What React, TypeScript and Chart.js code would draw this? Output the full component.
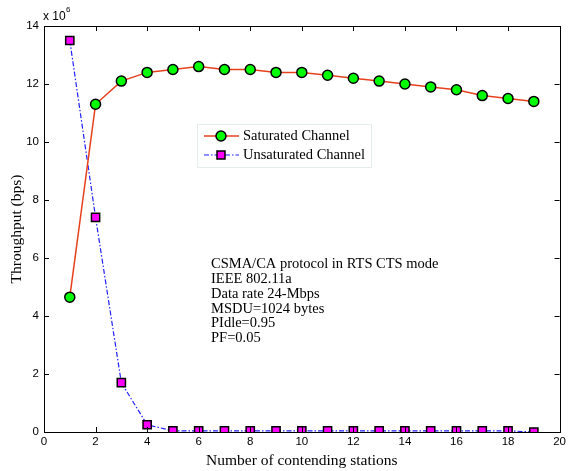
import React, { useEffect, useRef } from "react";
import { Chart, registerables } from "chart.js";

Chart.register(...registerables);

const stations = [1, 2, 3, 4, 5, 6, 7, 8, 9, 10, 11, 12, 13, 14, 15, 16, 17, 18, 19];
const saturated = [4.65, 11.3, 12.1, 12.4, 12.5, 12.6, 12.5, 12.5, 12.4, 12.4, 12.3, 12.2, 12.1, 12.0, 11.9, 11.8, 11.6, 11.5, 11.4];
const unsaturated = [13.5, 7.4, 1.7, 0.25, 0.04, 0.04, 0.04, 0.04, 0.04, 0.04, 0.04, 0.04, 0.04, 0.04, 0.04, 0.04, 0.04, 0.04, 0.0];
const legendLabels = ["Saturated Channel", "Unsaturated Channel"];
const noteLines = [
  "CSMA/CA protocol in RTS CTS mode",
  "IEEE 802.11a",
  "Data rate 24-Mbps",
  "MSDU=1024 bytes",
  "PIdle=0.95",
  "PF=0.05",
];

const SERIF = "'Liberation Serif', 'Times New Roman', serif";
const SANS = "'Liberation Sans', Arial, sans-serif";
const RED = "#e8401c";
const BLUE = "#1f1fff";

const decorPlugin = {
  id: "decor",
  afterDraw(chart: any) {
    const { ctx, chartArea: a, scales } = chart;
    const xs = scales.x;
    const ys = scales.y;
    ctx.save();
    // box
    ctx.strokeStyle = "#000";
    ctx.lineWidth = 1;
    ctx.strokeRect(Math.round(a.left) + 0.5, Math.round(a.top) + 0.5, Math.round(a.right - a.left), Math.round(a.bottom - a.top));
    // inward ticks
    const tl = 5;
    ctx.beginPath();
    for (let v = 0; v <= 20; v += 2) {
      const px = Math.round(xs.getPixelForValue(v)) + 0.5;
      ctx.moveTo(px, a.bottom);
      ctx.lineTo(px, a.bottom - tl);
      ctx.moveTo(px, a.top);
      ctx.lineTo(px, a.top + tl);
    }
    for (let v = 0; v <= 14; v += 2) {
      const py = Math.round(ys.getPixelForValue(v)) + 0.5;
      ctx.moveTo(a.left, py);
      ctx.lineTo(a.left + tl, py);
      ctx.moveTo(a.right, py);
      ctx.lineTo(a.right - tl, py);
    }
    ctx.stroke();

    // exponent label
    ctx.fillStyle = "#000";
    ctx.font = `12px ${SANS}`;
    ctx.textBaseline = "alphabetic";
    ctx.textAlign = "left";
    ctx.fillText("x 10", 43, 20);
    ctx.font = `8px ${SANS}`;
    ctx.fillText("6", 66, 12);

    // legend
    const lx = 197, ly = 124, lw = 174, lh = 43;
    ctx.fillStyle = "#fff";
    ctx.fillRect(lx, ly, lw, lh);
    ctx.strokeStyle = "#e4ecec";
    ctx.strokeRect(lx + 0.5, ly + 0.5, lw, lh);
    const rows = [ly + 12, ly + 31];
    // row 1
    ctx.lineWidth = 1.5;
    ctx.strokeStyle = RED;
    ctx.setLineDash([]);
    ctx.beginPath();
    ctx.moveTo(204, rows[0]);
    ctx.lineTo(239, rows[0]);
    ctx.stroke();
    ctx.beginPath();
    ctx.arc(221, rows[0], 5, 0, Math.PI * 2);
    ctx.fillStyle = "#00ff00";
    ctx.fill();
    ctx.lineWidth = 1.5;
    ctx.strokeStyle = "#000";
    ctx.stroke();
    // row 2
    ctx.strokeStyle = BLUE;
    ctx.lineWidth = 1.2;
    ctx.setLineDash([5, 2, 1.5, 2]);
    ctx.beginPath();
    ctx.moveTo(204, rows[1]);
    ctx.lineTo(239, rows[1]);
    ctx.stroke();
    ctx.setLineDash([]);
    ctx.fillStyle = "#ff00ff";
    ctx.fillRect(217, rows[1] - 4, 8, 8);
    ctx.strokeStyle = "#000";
    ctx.lineWidth = 1.5;
    ctx.strokeRect(217, rows[1] - 4, 8, 8);
    ctx.fillStyle = "#000";
    ctx.font = `14.5px ${SERIF}`;
    ctx.textBaseline = "middle";
    ctx.fillText(legendLabels[0], 243, rows[0]);
    ctx.fillText(legendLabels[1], 243, rows[1]);

    // notes
    ctx.font = `14.5px ${SERIF}`;
    noteLines.forEach((t, i) => {
      ctx.fillText(t, 211, 264 + i * 14.9);
    });
    ctx.restore();
  },
};

export default function App() {
  const ref = useRef<HTMLCanvasElement>(null);
  useEffect(() => {
    document.body.style.margin = "0";
    const chart = new Chart(ref.current as HTMLCanvasElement, {
      type: "line",
      data: {
        labels: stations,
        datasets: [
          {
            label: legendLabels[0],
            data: stations.map((s, i) => ({ x: s, y: saturated[i] })),
            borderColor: RED,
            borderWidth: 1.5,
            backgroundColor: "#00ff00",
            pointBackgroundColor: "#00ff00",
            pointBorderColor: "#000",
            pointBorderWidth: 1.5,
            pointRadius: 5,
            pointStyle: "circle",
            tension: 0,
          },
          {
            label: legendLabels[1],
            data: stations.map((s, i) => ({ x: s, y: unsaturated[i] })),
            borderColor: BLUE,
            borderWidth: 1.2,
            borderDash: [5, 2, 1.5, 2],
            backgroundColor: "#ff00ff",
            pointBackgroundColor: "#ff00ff",
            pointBorderColor: "#000",
            pointBorderWidth: 1.5,
            pointRadius: 5.8,
            pointStyle: "rect",
            tension: 0,
          },
        ],
      },
      options: {
        responsive: false,
        animation: false,
        events: [],
        layout: { padding: { top: 26, right: 6, left: 0, bottom: 0 } },
        plugins: { legend: { display: false }, tooltip: { enabled: false } },
        scales: {
          x: {
            type: "linear",
            min: 0,
            max: 20,
            grid: { display: false, drawTicks: false },
            border: { display: false },
            ticks: {
              stepSize: 2,
              padding: 3,
              color: "#000",
              font: { family: SANS, size: 11.5 },
              maxRotation: 0,
            },
            title: {
              display: true,
              text: "Number of contending stations",
              color: "#000",
              font: { family: SERIF, size: 15.5 },
              padding: { top: 2, bottom: 1 },
            },
            afterFit(s: any) {
              s.height = 39;
            },
          },
          y: {
            min: 0,
            max: 14,
            grid: { display: false, drawTicks: false },
            border: { display: false },
            ticks: {
              stepSize: 2,
              padding: 5,
              color: "#000",
              font: { family: SANS, size: 11.5 },
            },
            title: {
              display: true,
              text: "Throughput (bps)",
              color: "#000",
              font: { family: SERIF, size: 15.5 },
              padding: { top: 8, bottom: 0 },
            },
            afterFit(s: any) {
              s.width = 44;
            },
          },
        },
      },
      plugins: [decorPlugin],
    } as any);
    return () => chart.destroy();
  }, []);
  return (
    <div style={{ position: "absolute", left: 0, top: 0, width: 569, height: 471, background: "#fff" }}>
      <canvas ref={ref} width={569} height={471} style={{ width: 569, height: 471 }} />
    </div>
  );
}
